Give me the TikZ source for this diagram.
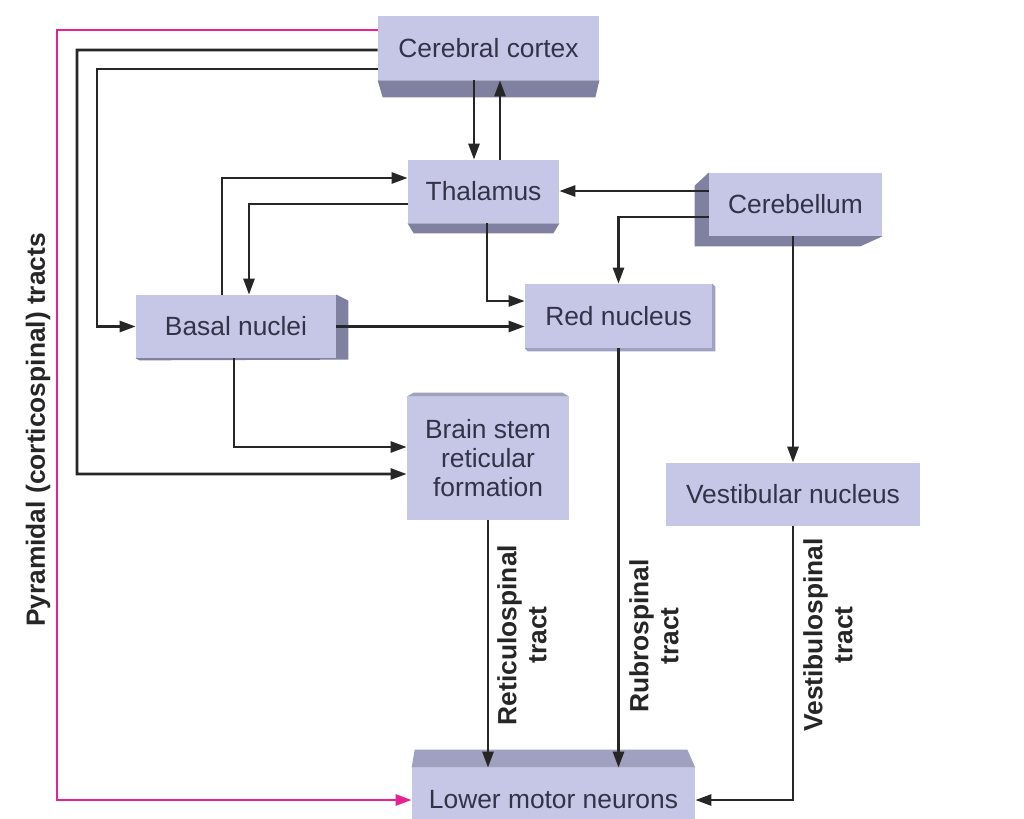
\documentclass[tikz,border=0pt]{standalone}
\usepackage{fontspec}
\setmainfont{Liberation Sans}
\usepackage{tikz}
\usetikzlibrary{arrows.meta,positioning,calc,backgrounds}
\definecolor{lilac}{RGB}{198,198,230}
\definecolor{lilacdark}{RGB}{128,128,160}
\definecolor{lilacmid}{RGB}{160,160,192}
\definecolor{ink}{RGB}{50,50,72}
\definecolor{pinkline}{RGB}{232,35,145}

\begin{document}
\begin{tikzpicture}[x=0.02cm,y=-0.02cm,
    box/.style={fill=lilac,text=ink,font=\fontsize{15}{16.5}\selectfont,align=center,inner sep=0pt},
    conn/.style={draw=black!85,line width=1.5pt,-{Triangle[length=3.2mm,width=2.2mm]}},
    pyrline/.style={conn,draw=pinkline},
    tractlabel/.style={rotate=90,font=\bfseries\fontsize{15}{17}\selectfont,align=center,text=black!85}]
    \useasboundingbox (0,0) rectangle (1024,818);
    \foreach \n/\x/\y/\w/\h/\t in {
      cortex/488.5/48/221/64/Cerebral cortex,
      thal/483.5/191.5/151/63/Thalamus,
      cereb/795.5/204.5/173/63/Cerebellum,
      basal/236/326.5/200/63/Basal nuclei,
      red/618.5/316/187/64/Red nucleus,
      stem/488/458.5/162/123/Brain stem\\reticular\\formation,
      vest/793/494.5/254/63/Vestibular nucleus,
      lmn/553.5/800/283/64/Lower motor neurons}
    {
      \node[box,minimum width=\w*0.02cm,minimum height=\h*0.02cm] (\n) at (\x,\y) {\t};
    }
    % bevels
    \begin{scope}[on background layer]
      \fill[lilacdark] (cortex.south west) -- (cortex.south east) -- ++(-4,17) -- ($(cortex.south west)+(5,17)$) -- cycle;
      \fill[lilacdark] (thal.south west) -- (thal.south east) -- ++(-6,10) -- ($(thal.south west)+(6,10)$) -- cycle;
      \fill[lilacdark] (cereb.north west) -- ++(-14,13) |- ($(cereb.south east)+(-22,10)$) -- (cereb.south east) -- cycle;
      \fill[lilacdark] (basal.north east) -- ++(12,6) -- ++(0,59) -- ($(basal.south west)+(4,2)$) -- (basal.south west) -- cycle;
      \fill[lilacmid] (red.north east) -- ++(3,3) |- ($(red.south west)+(3,3)$) -- (red.south west) -- cycle;
      \fill[lilacmid] (stem.north west) -- ++(7,-4) -- ($(stem.north east)+(-7,-4)$) -- (stem.north east) -- cycle;
      \fill[lilacmid] (lmn.north west) -- ++(3,-18) -- ($(lmn.north east)+(-8,-18)$) -- (lmn.north east) -- cycle;
    \end{scope}
    % connectors
    \draw[pyrline] ($(cortex.west)+(0,-18)$) -| (57,800) -- (lmn.west);
    \draw[conn] ($(cortex.west)+(0,2)$) -| (77,474) -- ($(stem.west)+(0,15.5)$);
    \draw[conn] ($(cortex.west)+(0,21)$) -| (97,326.5) -- (basal.west);
    \draw[conn] ($(cortex.south)+(-14.5,0)$) coordinate (cd) -- (cd |- thal.north);
    \draw[conn] ($(thal.north)+(16.5,0)$) coordinate (tu) -- (tu |- cortex.south);
    \draw[conn] ($(basal.north)+(-14,0)$) |- ($(thal.west)+(0,-13.5)$);
    \draw[conn] ($(thal.west)+(0,12.5)$) -| ($(basal.north)+(13,0)$);
    \draw[conn] (basal.east) -- (basal.east -| red.west);
    \draw[conn] ($(thal.south)+(3.5,0)$) |- ($(red.west)+(0,-15)$);
    \draw[conn] ($(cereb.west)+(0,-13.5)$) coordinate (ct) -- (ct -| thal.east);
    \draw[conn] ($(cereb.west)+(0,12.5)$) -| (red.north);
    \draw[conn] (cereb.south -| vest.north) -- (vest.north);
    \draw[conn] ($(basal.south)+(-2,0)$) |- ($(stem.west)+(0,-11.5)$);
    \draw[conn] (stem.south) -- (stem.south |- lmn.north);
    \draw[conn] (red.south) -- (red.south |- lmn.north);
    \draw[conn] (vest.south) |- (lmn.east);
    % tract labels
    \node[tractlabel] (retic) at (522,635) {Reticulospinal\\tract};
    \node[tractlabel] (rubro) at (654,636) {Rubrospinal\\tract};
    \node[tractlabel] (vestib) at (828,635) {Vestibulospinal\\tract};
    \node[tractlabel] (pyr) at (38,430) {Pyramidal (corticospinal) tracts};
  \end{tikzpicture}
\end{document}
